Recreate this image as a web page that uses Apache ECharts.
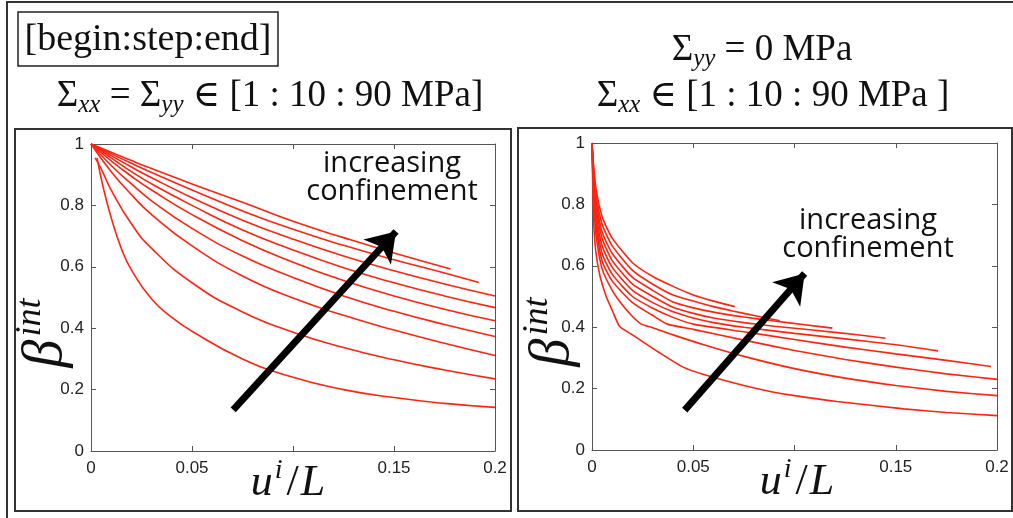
<!DOCTYPE html>
<html>
<head>
<meta charset="utf-8">
<script src="https://cdn.jsdelivr.net/npm/echarts@6/dist/echarts.min.js"></script>
<style>
html,body{margin:0;padding:0;background:#fff;}
#app{width:1013px;height:518px;}
</style>
</head>
<body>
<div id="app"></div>
<script>
// tick labels (0.1 has a tick but no label in the original)
var xTickLabels = ['0', '0.05', '', '0.15', '0.2'];
var yTickLabels = ['0', '0.2', '0.4', '0.6', '0.8', '1'];

// left panel: Sxx = Syy in [1:10:90 MPa], [u/L, beta]
var leftCurves = [
    [[0,1],[0.01,0.973],[0.02,0.946],[0.03,0.92],[0.05,0.87],[0.075,0.81],[0.1,0.748],[0.125,0.695],[0.15,0.645],[0.178,0.593]],
    [[0,1],[0.01,0.968],[0.02,0.937],[0.03,0.907],[0.05,0.85],[0.075,0.782],[0.1,0.722],[0.125,0.67],[0.15,0.623],[0.175,0.58],[0.192,0.549]],
    [[0,1],[0.01,0.962],[0.02,0.925],[0.03,0.89],[0.05,0.825],[0.075,0.752],[0.1,0.69],[0.125,0.635],[0.15,0.587],[0.175,0.544],[0.2,0.505]],
    [[0,1],[0.01,0.955],[0.02,0.91],[0.03,0.87],[0.05,0.8],[0.075,0.72],[0.1,0.655],[0.125,0.597],[0.15,0.548],[0.175,0.505],[0.2,0.467]],
    [[0,1],[0.01,0.945],[0.02,0.895],[0.03,0.85],[0.05,0.77],[0.075,0.685],[0.1,0.615],[0.125,0.555],[0.15,0.505],[0.175,0.462],[0.2,0.424]],
    [[0,1],[0.01,0.93],[0.02,0.87],[0.03,0.815],[0.05,0.725],[0.075,0.635],[0.1,0.565],[0.125,0.505],[0.15,0.455],[0.175,0.412],[0.2,0.373]],
    [[0,1],[0.01,0.91],[0.02,0.835],[0.03,0.77],[0.05,0.668],[0.075,0.57],[0.1,0.498],[0.125,0.442],[0.15,0.394],[0.175,0.351],[0.2,0.311]],
    [[0.002,0.955],[0.005,0.92],[0.01,0.85],[0.02,0.74],[0.03,0.66],[0.05,0.548],[0.075,0.453],[0.1,0.387],[0.125,0.337],[0.15,0.297],[0.175,0.264],[0.2,0.235]],
    [[0.003,0.955],[0.006,0.86],[0.01,0.76],[0.015,0.66],[0.02,0.59],[0.03,0.495],[0.04,0.435],[0.05,0.39],[0.075,0.3],[0.1,0.24],[0.125,0.2],[0.15,0.174],[0.175,0.155],[0.2,0.142]]
];

// right panel: Syy = 0, Sxx in [1:10:90 MPa]
var rightCurves = [
    [[0,1],[0.0005,0.95],[0.001,0.91],[0.002,0.85],[0.005,0.76],[0.01,0.69],[0.02,0.61],[0.03,0.565],[0.04,0.533],[0.05,0.505],[0.06,0.485],[0.0705,0.467]],
    [[0,1],[0.0005,0.94],[0.001,0.895],[0.002,0.83],[0.005,0.735],[0.01,0.665],[0.02,0.585],[0.03,0.54],[0.04,0.505],[0.05,0.485],[0.06,0.467],[0.07,0.452],[0.08,0.438],[0.0927,0.421]],
    [[0,1],[0.0005,0.93],[0.001,0.88],[0.002,0.81],[0.005,0.71],[0.01,0.64],[0.02,0.562],[0.03,0.52],[0.04,0.482],[0.05,0.463],[0.06,0.449],[0.075,0.433],[0.09,0.42],[0.105,0.408],[0.1187,0.397]],
    [[0,1],[0.0005,0.92],[0.001,0.865],[0.002,0.79],[0.005,0.69],[0.01,0.617],[0.02,0.54],[0.03,0.5],[0.04,0.465],[0.05,0.445],[0.06,0.43],[0.075,0.415],[0.09,0.403],[0.11,0.39],[0.13,0.376],[0.1449,0.364]],
    [[0,1],[0.0005,0.91],[0.001,0.85],[0.002,0.77],[0.005,0.665],[0.01,0.595],[0.02,0.52],[0.03,0.48],[0.04,0.45],[0.05,0.43],[0.06,0.415],[0.075,0.4],[0.1,0.38],[0.125,0.362],[0.15,0.343],[0.1709,0.323]],
    [[0,1],[0.0005,0.9],[0.001,0.835],[0.002,0.75],[0.005,0.64],[0.01,0.572],[0.02,0.5],[0.03,0.462],[0.04,0.432],[0.05,0.41],[0.075,0.385],[0.1,0.36],[0.125,0.335],[0.15,0.313],[0.175,0.292],[0.197,0.272]],
    [[0,1],[0.0005,0.89],[0.001,0.82],[0.002,0.73],[0.005,0.615],[0.01,0.55],[0.02,0.48],[0.03,0.438],[0.0372,0.41],[0.05,0.393],[0.075,0.358],[0.1,0.324],[0.125,0.295],[0.15,0.27],[0.175,0.248],[0.2,0.23]],
    [[0,1],[0.0005,0.87],[0.001,0.79],[0.002,0.7],[0.005,0.59],[0.01,0.52],[0.015,0.472],[0.02,0.435],[0.0244,0.41],[0.03,0.398],[0.04,0.375],[0.0556,0.342],[0.075,0.305],[0.1,0.265],[0.125,0.234],[0.15,0.21],[0.175,0.191],[0.2,0.177]],
    [[0,1],[0.0005,0.82],[0.001,0.72],[0.002,0.64],[0.004,0.565],[0.007,0.5],[0.01,0.455],[0.0137,0.402],[0.02,0.375],[0.0326,0.32],[0.045,0.27],[0.0556,0.245],[0.075,0.21],[0.0885,0.19],[0.1,0.177],[0.121,0.158],[0.154,0.134],[0.175,0.122],[0.2,0.112]]
];

// annotation arrows, [u/L, beta] tail -> head
var leftArrow = [[0.0704, 0.134], [0.151, 0.715]];
var rightArrow = [[0.0458, 0.13], [0.105, 0.575]];

var redLine = '#ff2412';
var axisGrey = '#555';
var serif = "'Liberation Serif', 'DejaVu Serif', serif";
var sans = "'Liberation Sans', Arial, sans-serif";

function mainAxes(gi) {
    var x = {
        type: 'value', gridIndex: gi, min: 0, max: 0.2, interval: 0.05,
        axisLine: {onZero: false, lineStyle: {color: axisGrey, width: 1}},
        axisTick: {inside: true, length: 5, lineStyle: {color: axisGrey}},
        splitLine: {show: false},
        axisLabel: {
            margin: 9, color: '#222', fontSize: 17, fontFamily: sans,
            formatter: function (v, i) { return xTickLabels[i]; }
        }
    };
    var y = {
        type: 'value', gridIndex: gi, min: 0, max: 1, interval: 0.2,
        axisLine: {show: true, onZero: false, lineStyle: {color: axisGrey, width: 1}},
        axisTick: {show: true, inside: true, length: 5, lineStyle: {color: axisGrey}},
        splitLine: {show: false},
        axisLabel: {
            margin: 7, color: '#222', fontSize: 17, fontFamily: sans,
            formatter: function (v, i) { return yTickLabels[i]; }
        }
    };
    return [x, y];
}
// mirror axes so the box has ticks on all four sides
function boxAxes(gi) {
    var x = {
        type: 'value', gridIndex: gi, position: 'top', min: 0, max: 0.2, interval: 0.05,
        axisLine: {onZero: false, lineStyle: {color: axisGrey, width: 1}},
        axisTick: {inside: true, length: 5, lineStyle: {color: axisGrey}},
        axisLabel: {show: false}, splitLine: {show: false}
    };
    var y = {
        type: 'value', gridIndex: gi, position: 'right', min: 0, max: 1, interval: 0.2,
        axisLine: {show: true, onZero: false, lineStyle: {color: axisGrey, width: 1}},
        axisTick: {show: true, inside: true, length: 5, lineStyle: {color: axisGrey}},
        axisLabel: {show: false}, splitLine: {show: false}
    };
    return [x, y];
}

var la = mainAxes(0), lb = boxAxes(0), ra = mainAxes(1), rb = boxAxes(1);

var series = [];
leftCurves.forEach(function (c) {
    series.push({
        type: 'line', xAxisIndex: 0, yAxisIndex: 0, data: c, showSymbol: false,
        smooth: 0.5, lineStyle: {color: redLine, width: 1.6}, silent: true
    });
});
rightCurves.forEach(function (c) {
    series.push({
        type: 'line', xAxisIndex: 2, yAxisIndex: 2, data: c, showSymbol: false,
        smooth: 0.2, lineStyle: {color: redLine, width: 1.6}, silent: true
    });
});
[[leftArrow, 0], [rightArrow, 2]].forEach(function (a) {
    series.push({
        type: 'lines', coordinateSystem: 'cartesian2d', xAxisIndex: a[1], yAxisIndex: a[1],
        symbol: ['none', 'arrow'], symbolSize: [24, 28], silent: true, z: 5,
        lineStyle: {color: '#000', width: 7, opacity: 1},
        itemStyle: {color: '#000'},
        data: [{coords: a[0]}]
    });
});

// β^int and u^i/L as rich text
function betaLabel(x, y) {
    return {
        type: 'text', x: x, y: y, rotation: Math.PI / 2, silent: true,
        style: {
            text: '{b|β}{s|int}', align: 'center', verticalAlign: 'middle',
            rich: {
                b: {fontSize: 56, fontFamily: serif, fontStyle: 'italic', lineHeight: 66, fill: '#111'},
                s: {fontSize: 36, fontFamily: serif, fontStyle: 'italic', lineHeight: 36, verticalAlign: 'top', fill: '#111', padding: [0, 0, 0, 3]}
            }
        }
    };
}
function uLabel(x, y) {
    return {
        type: 'text', x: x, y: y, silent: true,
        style: {
            text: '{v|u}{s|i}{r|/}{v|L}', align: 'center', verticalAlign: 'middle',
            rich: {
                v: {fontSize: 44, fontFamily: serif, fontStyle: 'italic', lineHeight: 52, fill: '#111'},
                r: {fontSize: 44, fontFamily: serif, lineHeight: 52, fill: '#111', padding: [0, 2, 0, 0]},
                s: {fontSize: 28, fontFamily: serif, fontStyle: 'italic', lineHeight: 26, verticalAlign: 'top', fill: '#111', padding: [0, 4, 0, 2]}
            }
        }
    };
}
var mathRich = {
    m: {fontSize: 37, fontFamily: serif, lineHeight: 44, fill: '#111'},
    i: {fontSize: 25, fontFamily: serif, fontStyle: 'italic', lineHeight: 25, verticalAlign: 'bottom', fill: '#111'}
};
function mathText(x, y, txt) {
    return {
        type: 'text', x: x, y: y, silent: true,
        style: {text: txt, align: 'center', verticalAlign: 'middle', rich: mathRich}
    };
}
function noteText(x, y) {
    return {
        type: 'text', x: x, y: y, silent: true,
        style: {
            text: 'increasing\nconfinement', align: 'center', verticalAlign: 'middle',
            fontSize: 29, lineHeight: 28, fontFamily: "'Open Sans', 'Noto Sans', sans-serif", fill: '#111'
        }
    };
}

var frame = {stroke: '#333', lineWidth: 2, fill: null};

var option = {
    animation: false,
    backgroundColor: '#fff',
    grid: [
        {left: 91, top: 144, width: 404, height: 307},
        {left: 592, top: 143, width: 405, height: 307}
    ],
    xAxis: [la[0], lb[0], ra[0], rb[0]],
    yAxis: [la[1], lb[1], ra[1], rb[1]],
    series: series,
    graphic: [
        {type: 'line', silent: true, shape: {x1: 7, y1: 2, x2: 7, y2: 518}, style: frame},
        {type: 'line', silent: true, shape: {x1: 6, y1: 2, x2: 1013, y2: 2}, style: frame},
        {type: 'rect', silent: true, shape: {x: 18, y: 12, width: 260, height: 54}, style: {stroke: '#222', lineWidth: 1.5, fill: null}},
        {type: 'rect', silent: true, shape: {x: 15, y: 129, width: 496, height: 382}, style: frame},
        {type: 'rect', silent: true, shape: {x: 518, y: 128, width: 494, height: 383}, style: frame},
        {type: 'text', x: 148, y: 40, silent: true,
            style: {text: '[begin:step:end]', align: 'center', verticalAlign: 'middle', fontSize: 38, fontFamily: serif, fill: '#111'}},
        mathText(270, 96, '{m|Σ}{i|xx}{m| = Σ}{i|yy}{m| ∈ [1 : 10 : 90 MPa]}'),
        mathText(762, 50, '{m|Σ}{i|yy}{m| = 0 MPa}'),
        mathText(773, 96, '{m|Σ}{i|xx}{m| ∈ [1 : 10 : 90 MPa ]}'),
        betaLabel(46, 333),
        betaLabel(553, 332),
        uLabel(288, 483),
        uLabel(797, 482),
        noteText(392, 178),
        noteText(868, 235)
    ]
};

var chart = echarts.init(document.getElementById('app'));
chart.setOption(option);
</script>
</body>
</html>
